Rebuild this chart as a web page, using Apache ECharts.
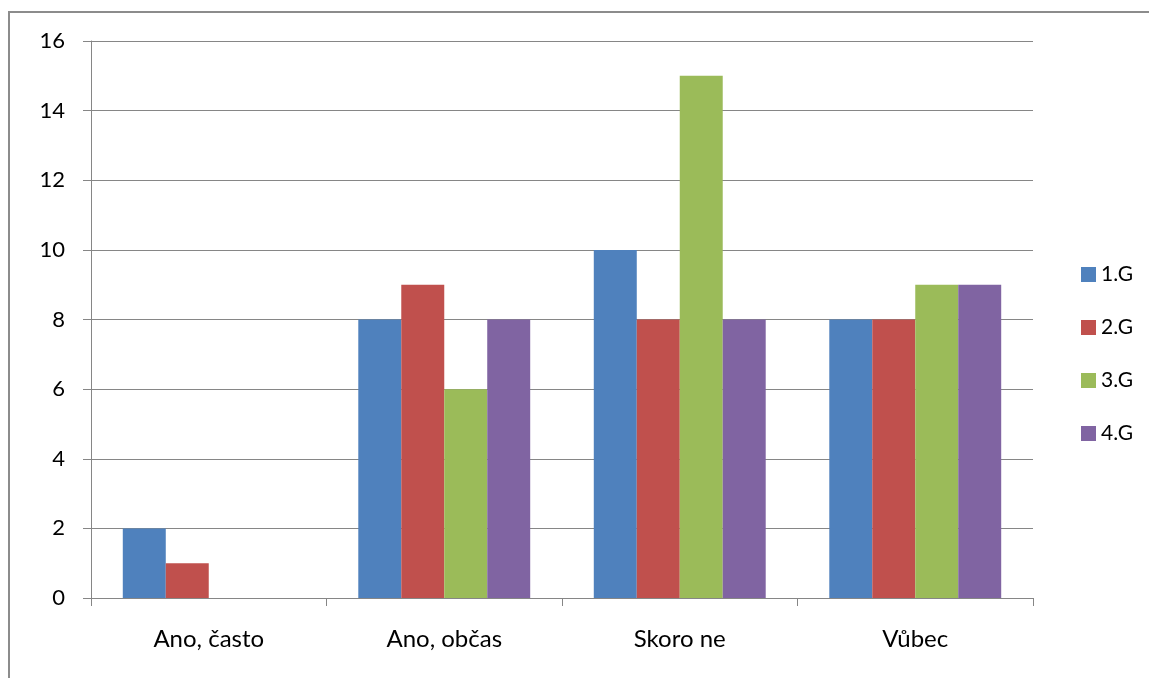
<!DOCTYPE html>
<html>
<head>
<meta charset="utf-8">
<script src="https://cdn.jsdelivr.net/npm/echarts@6/dist/echarts.min.js"></script>
<style>
  html, body { margin: 0; padding: 0; background: #fff; }
  #chart { width: 1149px; height: 678px; }
</style>
</head>
<body>
<div id="chart"></div>
<script>
// kategorie a hodnoty
const categories = ['Ano, často', 'Ano, občas', 'Skoro ne', 'Vůbec'];
const g1 = [2, 8, 10, 8];
const g2 = [1, 9, 8, 8];
const g3 = [0, 6, 15, 9];
const g4 = [0, 8, 8, 9];
const seriesNames = ['1.G', '2.G', '3.G', '4.G'];
const colors = ['#4F81BD', '#C0504D', '#9BBB59', '#8064A2'];

const font = 'Lato';
let myChart = echarts.init(document.getElementById('chart'));

const allData = [g1, g2, g3, g4];
myChart.setOption({
  animation: false,
  backgroundColor: '#fff',
  color: colors,
  // rámeček grafu (vidět jen levá a horní hrana)
  graphic: [{
    type: 'polyline',
    shape: { points: [[9, 700], [9, 12], [1149, 12]] },
    style: { fill: null, stroke: '#8c8c8c', lineWidth: 2 },
    silent: true
  }],
  grid: { left: 91, right: 116, top: 41, bottom: 80 },
  legend: {
    orient: 'vertical',
    left: 1076,
    top: 259,
    itemWidth: 15,
    itemHeight: 15,
    itemGap: 32,
    icon: 'rect',
    data: seriesNames,
    textStyle: { fontFamily: font, fontSize: 21, color: '#000' }
  },
  xAxis: {
    type: 'category',
    data: categories,
    axisLine: { lineStyle: { color: '#868686', width: 1 } },
    axisTick: { show: true, length: 8, lineStyle: { color: '#868686' } },
    axisLabel: { fontFamily: font, fontSize: 24, color: '#000', margin: 29 }
  },
  yAxis: {
    type: 'value',
    min: 0,
    max: 16,
    interval: 2,
    axisLine: { show: true, lineStyle: { color: '#868686', width: 1 } },
    axisTick: { show: true, length: 8, lineStyle: { color: '#868686' } },
    axisLabel: { fontFamily: font, fontSize: 22, color: '#000', margin: 26 },
    splitLine: { lineStyle: { color: '#868686', width: 1 } }
  },
  series: seriesNames.map((name, i) => ({
    name: name,
    type: 'bar',
    data: allData[i],
    barGap: '0%',
    barCategoryGap: '27%',
    itemStyle: { color: colors[i] }
  }))
});
</script>
</body>
</html>
